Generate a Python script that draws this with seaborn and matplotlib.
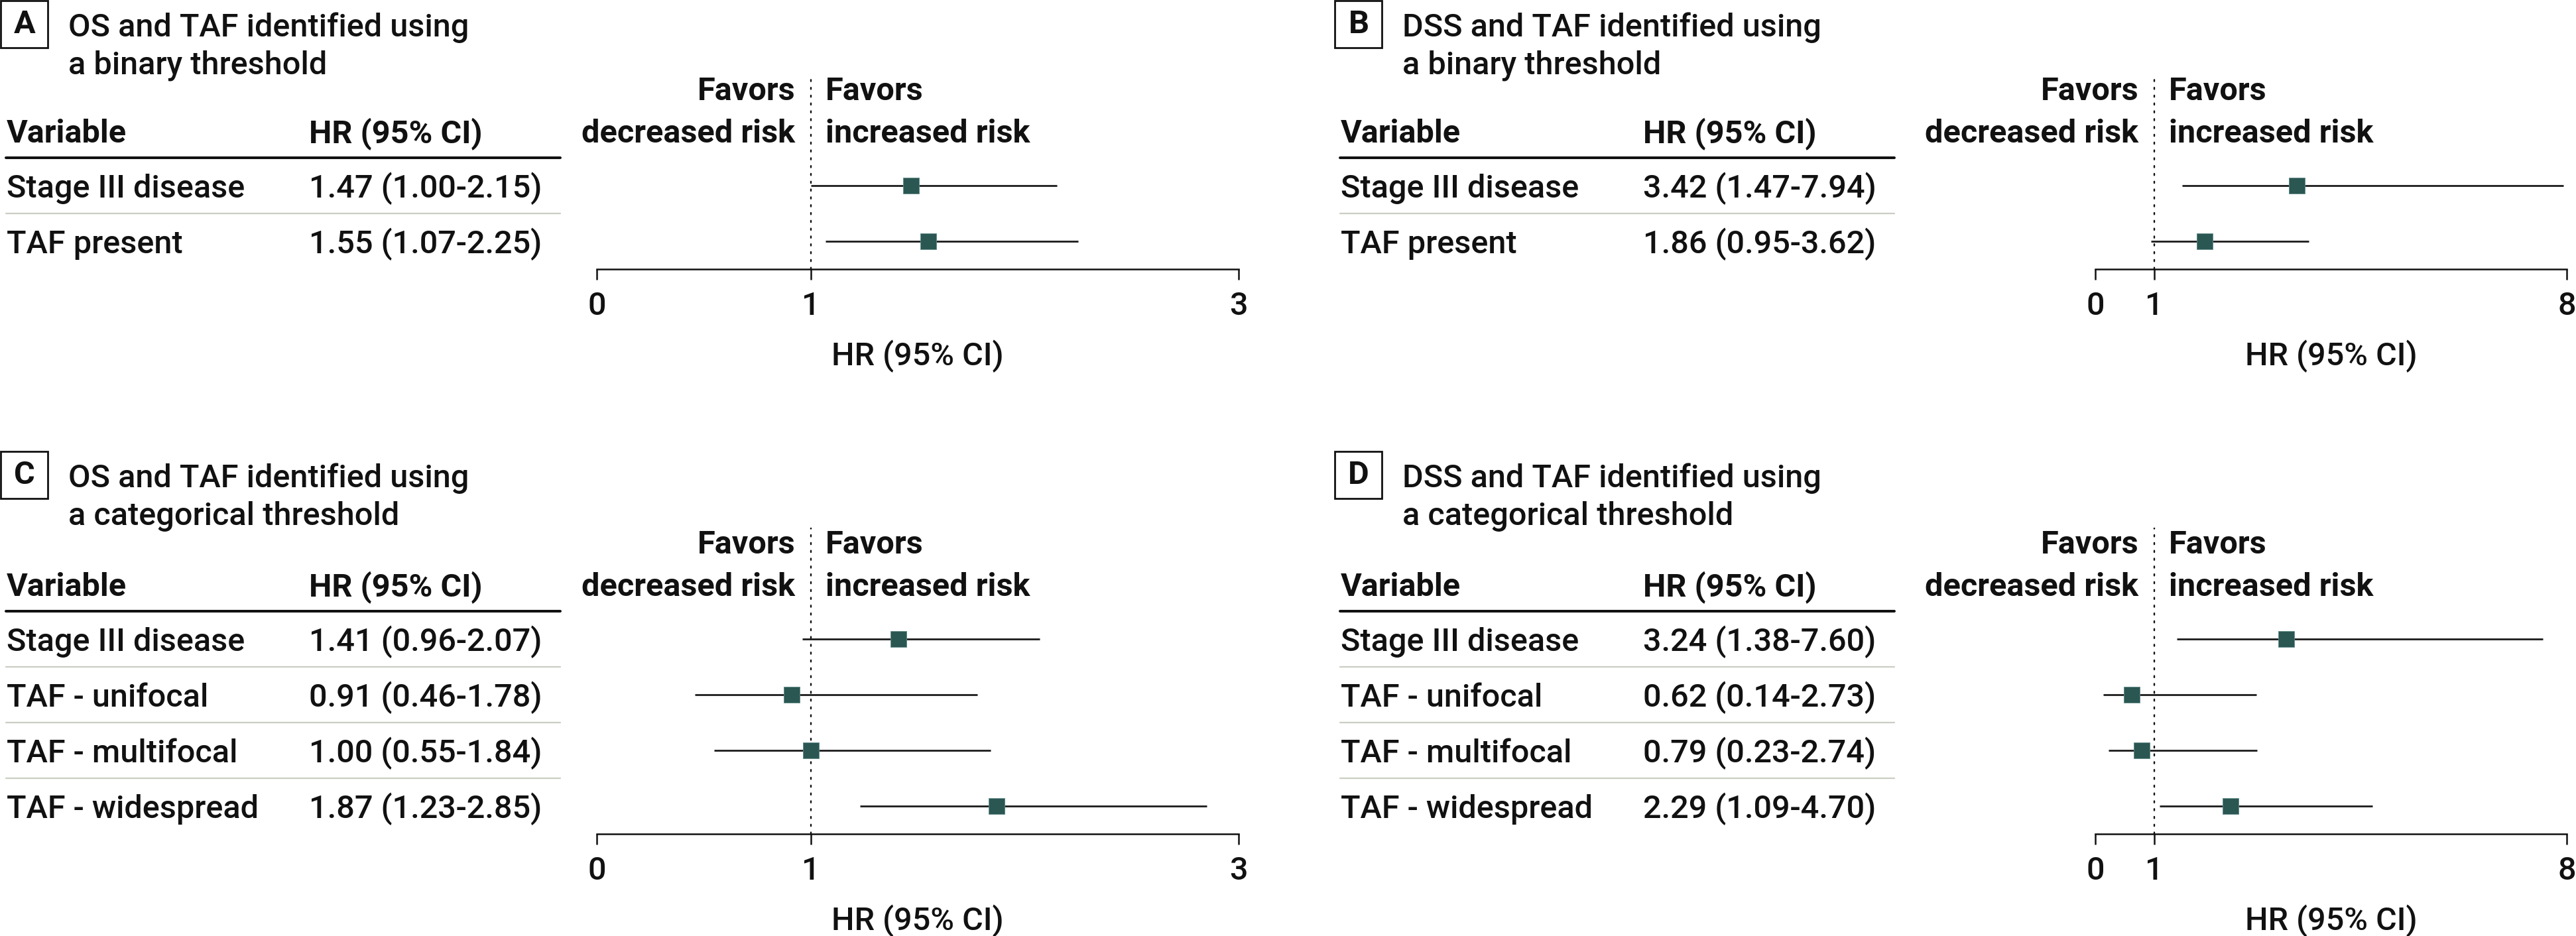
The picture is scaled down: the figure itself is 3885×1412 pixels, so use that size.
import numpy as np
import pandas as pd
import matplotlib
matplotlib.use("Agg")
import matplotlib.pyplot as plt
import matplotlib.transforms as mtransforms
from matplotlib.patches import Rectangle
from matplotlib.lines import Line2D
import seaborn as sns

# ---------------- data ----------------
a_letter = "A"
a_title = ["OS and TAF identified using", "a binary threshold"]
a_vars = ["Stage III disease", "TAF present"]
a_hr = [1.47, 1.55]
a_lo = [1.00, 1.07]
a_hi = [2.15, 2.25]
a_ticks = [0, 1, 3]

b_letter = "B"
b_title = ["DSS and TAF identified using", "a binary threshold"]
b_vars = ["Stage III disease", "TAF present"]
b_hr = [3.42, 1.86]
b_lo = [1.47, 0.95]
b_hi = [7.94, 3.62]
b_ticks = [0, 1, 8]

c_letter = "C"
c_title = ["OS and TAF identified using", "a categorical threshold"]
c_vars = ["Stage III disease", "TAF - unifocal", "TAF - multifocal", "TAF - widespread"]
c_hr = [1.41, 0.91, 1.00, 1.87]
c_lo = [0.96, 0.46, 0.55, 1.23]
c_hi = [2.07, 1.78, 1.84, 2.85]
c_ticks = [0, 1, 3]

d_letter = "D"
d_title = ["DSS and TAF identified using", "a categorical threshold"]
d_vars = ["Stage III disease", "TAF - unifocal", "TAF - multifocal", "TAF - widespread"]
d_hr = [3.24, 0.62, 0.79, 2.29]
d_lo = [1.38, 0.14, 0.23, 1.09]
d_hi = [7.60, 2.73, 2.74, 4.70]
d_ticks = [0, 1, 8]

col_headers = ["Variable", "HR (95% CI)"]
favors_left = ["Favors", "decreased risk"]
favors_right = ["Favors", "increased risk"]
x_label = "HR (95% CI)"

# ---------------- style ----------------
W, H = 3885, 1412
DPI = 100
sns.set_theme(style="white")
plt.rcParams['font.family'] = ['Roboto', 'Liberation Sans', 'DejaVu Sans']
plt.rcParams['text.color'] = '#111111'

FS = 35
RW = 'medium'
INK = '#111111'
SQ = '#2b5753'
SEP = '#c9cec3'

fig = plt.figure(figsize=(W / DPI, H / DPI), dpi=DPI)


def fx(x):
    return x / W


def fy(y):
    return 1 - y / H


def panel(letter, title, variables, hr, lo, hi, ticks, left, ax_x0, ax_x1, y0, yt):
    n = len(variables)
    row0 = 280 + y0
    step = 84
    top = 112 + y0
    bottom = row0 + (n - 1) * step + 42
    ax = fig.add_axes([fx(ax_x0), fy(bottom), (ax_x1 - ax_x0) / W, (bottom - top) / H])
    df = pd.DataFrame({'row': np.arange(n), 'hr': hr, 'lo': lo, 'hi': hi})

    ax.axvline(1, color=INK, lw=1.7, linestyle=(0, (1, 4)),
               dash_capstyle='round', zorder=1)
    ax.hlines(df['row'], df['lo'], df['hi'], color='#1c1c1c', lw=2.0, zorder=2)
    sns.scatterplot(data=df, x='hr', y='row', marker='s', s=310, color=SQ,
                    edgecolor='#5f8a86', linewidth=0.6, zorder=3, ax=ax,
                    legend=False)

    ax.set_xlim(0, ticks[-1])
    ax.set_ylim((bottom - row0) / step, (top - row0) / step)
    for s in ['left', 'right', 'top']:
        ax.spines[s].set_visible(False)
    ax.spines['bottom'].set_linewidth(1.8)
    ax.spines['bottom'].set_color(INK)
    ax.set_yticks([])
    ax.set_ylabel('')
    ax.set_xticks(ticks)
    ax.set_xticklabels([str(t) for t in ticks], fontweight=RW)
    ax.tick_params(axis='x', bottom=True, direction='out', length=11.5,
                   width=1.8, color=INK, labelsize=FS, labelcolor=INK, pad=12)
    ax.set_xlabel(x_label, fontsize=FS, color=INK, labelpad=20, fontweight=RW)
    ax.patch.set_alpha(0)

    header_y = (215 - 280) / step
    fav_y = (151 - 280) / step

    # favors labels around the null line
    tl = mtransforms.offset_copy(ax.transData, fig=fig, x=-17, y=0, units='points')
    tr = mtransforms.offset_copy(ax.transData, fig=fig, x=16, y=0, units='points')
    ax.text(1, fav_y, favors_left[0], transform=tl, ha='right', va='baseline',
            fontsize=FS, fontweight='bold', clip_on=False)
    ax.text(1, header_y, favors_left[1], transform=tl, ha='right', va='baseline',
            fontsize=FS, fontweight='bold', clip_on=False)
    ax.text(1, fav_y, favors_right[0], transform=tr, ha='left', va='baseline',
            fontsize=FS, fontweight='bold', clip_on=False)
    ax.text(1, header_y, favors_right[1], transform=tr, ha='left', va='baseline',
            fontsize=FS, fontweight='bold', clip_on=False)

    # table
    bt = mtransforms.blended_transform_factory(fig.transFigure, ax.transData)
    x_var = fx(left + 10)
    x_hr = fx(left + 466)
    ax.text(x_var, header_y, col_headers[0], transform=bt, ha='left', va='baseline',
            fontsize=FS, fontweight='bold', clip_on=False)
    ax.text(x_hr, header_y, col_headers[1], transform=bt, ha='left', va='baseline',
            fontsize=FS, fontweight='bold', clip_on=False)
    ax.add_line(Line2D([fx(left + 9), fx(left + 845)], [-0.5, -0.5], transform=bt,
                       color=INK, lw=2.9, clip_on=False))
    for i in range(n):
        ax.text(x_var, i + 0.214, variables[i], transform=bt, ha='left',
                va='baseline', fontsize=FS, fontweight=RW, clip_on=False)
        ax.text(x_hr, i + 0.214, f"{hr[i]:.2f} ({lo[i]:.2f}-{hi[i]:.2f})",
                transform=bt, ha='left', va='baseline', fontsize=FS,
                fontweight=RW, clip_on=False)
        if i < n - 1:
            ax.add_line(Line2D([fx(left + 9), fx(left + 845)], [i + 0.5, i + 0.5],
                               transform=bt, color=SEP, lw=1.6, clip_on=False))

    # panel letter box and title
    fig.patches.append(Rectangle((fx(left + 1), fy(72 + yt)), 71 / W, 71 / H,
                                 transform=fig.transFigure, fill=False,
                                 edgecolor=INK, lw=2.0))
    fig.text(fx(left + 37), fy(37 + yt), letter, ha='center', va='center',
             fontsize=FS, fontweight='bold', color=INK)
    fig.text(fx(left + 103), fy(55 + yt), title[0], ha='left', va='baseline',
             fontsize=FS, fontweight=RW, color=INK)
    fig.text(fx(left + 103), fy(112 + yt), title[1], ha='left', va='baseline',
             fontsize=FS, fontweight=RW, color=INK)
    return ax


panel(a_letter, a_title, a_vars, a_hr, a_lo, a_hi, a_ticks, 0, 900, 1868, 0, 0)
panel(b_letter, b_title, b_vars, b_hr, b_lo, b_hi, b_ticks, 2012, 3160, 3871, 0, 0)
panel(c_letter, c_title, c_vars, c_hr, c_lo, c_hi, c_ticks, 0, 900, 1868, 684, 680)
panel(d_letter, d_title, d_vars, d_hr, d_lo, d_hi, d_ticks, 2012, 3160, 3871, 684, 680)

fig.savefig("out.png", dpi=DPI, facecolor='white')
